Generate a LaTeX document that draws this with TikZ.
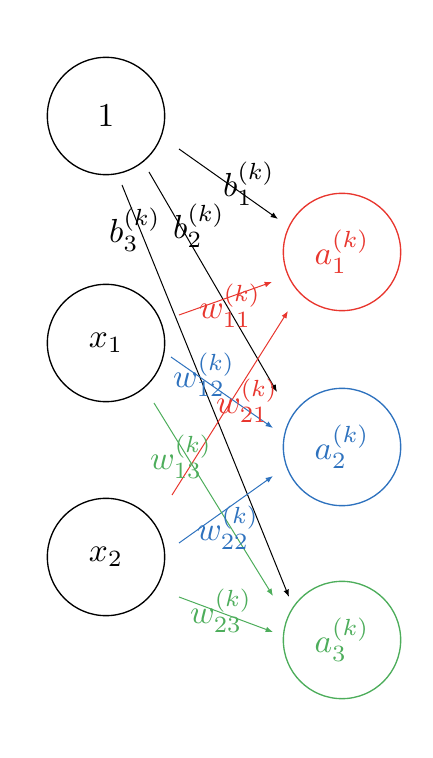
\documentclass[tikz,border=0pt]{standalone}
\usepackage{tikz}
\usetikzlibrary{arrows.meta}
\definecolor{Scarlet}{HTML}{E8362E}
\definecolor{Cobalt}{HTML}{2E72BE}
\definecolor{Fern}{HTML}{4DAD5B}

\begin{document}
\begin{tikzpicture}[x=0.3pt,y=-0.3pt,>={Latex[length=2.2pt,width=1.7pt]},
unit/.style={circle,draw,line width=0.4pt,minimum size=35.2pt,inner sep=0pt},
wire/.style={->,line width=0.3pt}]
\useasboundingbox(0,0)rectangle(432,758);
% input side
\node[unit](one)at(106,116){$1$};
\node[unit](x1)at(106,343){$x_1$};
\node[unit](x2)at(106,557){$x_2$};
% output side
\node[unit,draw=Scarlet,text=Scarlet](a1)at(342,252){$a_1^{(k)}$};
\node[unit,draw=Cobalt,text=Cobalt](a2)at(342,447){$a_2^{(k)}$};
\node[unit,draw=Fern,text=Fern](a3)at(342,640){$a_3^{(k)}$};
% weights and biases
\foreach \n/\xs/\ys/\xe/\ye/\c in {b1/179/149/278/219/black,b2/149/172/277/392/black,b3/122/185/289/597/black,
w11/179/315/272/282/Scarlet,w21/172/495/288/311/Scarlet,w12/171/357/273/428/Cobalt,
w22/179/543/273/476/Cobalt,w13/154/403/273/596/Fern,w23/179/597/273/632/Fern}{
\coordinate(\n s)at(\xs,\ys);\coordinate(\n e)at(\xe,\ye);
\draw[wire,\c](\n s)--(\n e);}
\node(lb1)at(249,184){$b_1^{(k)}$};
\node(lb2)at(199,226){$b_2^{(k)}$};
\node(lb3)at(135,230){$b_3^{(k)}$};
\node[text=Scarlet](lw11)at(230,306){$w_{11}^{(k)}$};
\node[text=Scarlet](lw21)at(247,401){$w_{21}^{(k)}$};
\node[text=Cobalt](lw12)at(204,375){$w_{12}^{(k)}$};
\node[text=Cobalt](lw22)at(228,528){$w_{22}^{(k)}$};
\node[text=Fern](lw13)at(181,457){$w_{13}^{(k)}$};
\node[text=Fern](lw23)at(221,611){$w_{23}^{(k)}$};
\end{tikzpicture}
\end{document}
